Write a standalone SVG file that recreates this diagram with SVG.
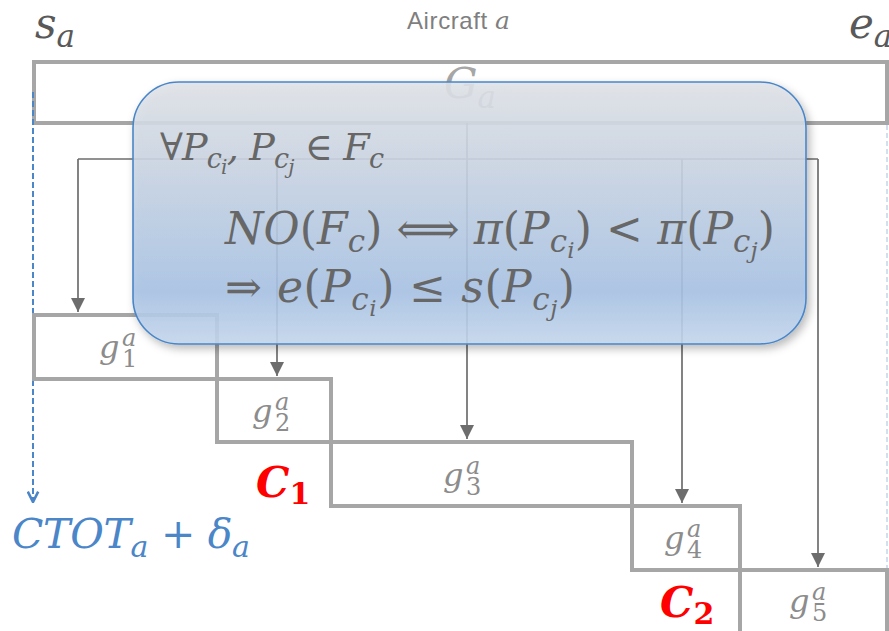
<svg xmlns="http://www.w3.org/2000/svg" width="889" height="631" viewBox="0 0 889 631">
<style>
.m{font-family:"DejaVu Serif","Liberation Serif",serif;font-style:italic;font-size:44px;fill:#676767}
.u{font-style:normal}
.s{font-size:31px}
.ss{font-size:23px}
.box{fill:#fff;stroke:#a6a6a6;stroke-width:4}
.con{fill:none;stroke:#6d6d6d;stroke-width:1.7}
.gl{font-family:"DejaVu Serif","Liberation Serif",serif;font-style:italic;fill:#8c8c8c;font-size:32px}
.sc{font-size:24px}
.red{font-family:"DejaVu Serif","Liberation Serif",serif;font-style:italic;font-weight:bold;fill:#ff0000;font-size:42px}
</style>
<defs>
<marker id="ah" viewBox="0 0 10 10" refX="10" refY="5" markerWidth="14" markerHeight="14" markerUnits="userSpaceOnUse" orient="auto"><path d="M0,0L10,5L0,10z" fill="#6d6d6d"/></marker>
<marker id="bh" viewBox="0 0 10 10" refX="9" refY="5" markerWidth="13" markerHeight="13" markerUnits="userSpaceOnUse" orient="auto"><path d="M1,1L9,5L1,9" fill="none" stroke="#4a86c8" stroke-width="2"/></marker>
<linearGradient id="gr" x1="0" y1="0" x2="0" y2="1">
<stop offset="0" stop-color="#e0e3e8"/>
<stop offset="0.3" stop-color="#ccd6e4"/>
<stop offset="0.8" stop-color="#a8c3e5"/>
<stop offset="1" stop-color="#c6d8ee"/>
</linearGradient>
<filter id="sh" x="-5%" y="-5%" width="115%" height="120%"><feDropShadow dx="3" dy="4" stdDeviation="4" flood-color="#000" flood-opacity="0.3"/></filter>
</defs>
<rect width="889" height="631" fill="#fff"/>
<text x="407" y="29" font-family="'Liberation Sans',Arial,sans-serif" font-size="24" fill="#7f7f7f" letter-spacing="0.6">Aircraft <tspan font-family="'DejaVu Serif',serif" font-style="italic" font-size="25">a</tspan></text>
<text x="35" y="38" class="m" style="font-size:42px;fill:#595959">s<tspan dy="9" style="font-size:31px">a</tspan></text>
<text x="849" y="38" class="m" style="font-size:42px;fill:#595959">e<tspan dy="9" style="font-size:31px">a</tspan></text>
<g id="Ga">
<rect x="34" y="62" width="853" height="61" class="box"/>
<text x="444" y="98" class="m" style="font-size:42px;fill:#a6a6a6">G<tspan dy="10" style="font-size:31px">a</tspan></text>
</g>
<g id="connectors">
<line x1="33" y1="92" x2="33" y2="502" stroke="#4a86c8" stroke-width="2" stroke-dasharray="6 3" marker-end="url(#bh)"/>
<line x1="887" y1="125" x2="887" y2="631" stroke="#c5d5ea" stroke-width="1.5" stroke-dasharray="5 3"/>
<path class="con" d="M467,123V159M78,159H818"/>
<line class="con" x1="78" y1="159" x2="78" y2="312" marker-end="url(#ah)"/>
<line class="con" x1="277" y1="159" x2="277" y2="376" marker-end="url(#ah)"/>
<line class="con" x1="467" y1="159" x2="467" y2="439" marker-end="url(#ah)"/>
<line class="con" x1="682" y1="159" x2="682" y2="503" marker-end="url(#ah)"/>
<line class="con" x1="818" y1="159" x2="818" y2="567" marker-end="url(#ah)"/>
</g>
<g id="g1"><rect x="34" y="315" width="183" height="64" class="box"/>
<text class="gl"><tspan x="99" y="358">g</tspan><tspan class="sc" x="122" y="346">a</tspan><tspan class="sc u" x="122" y="367">1</tspan></text></g>
<g id="g2"><rect x="217" y="379" width="114" height="63" class="box"/>
<text class="gl"><tspan x="252" y="422">g</tspan><tspan class="sc" x="275" y="410">a</tspan><tspan class="sc u" x="275" y="431">2</tspan></text></g>
<g id="g3"><rect x="331" y="442" width="301" height="64" class="box"/>
<text class="gl"><tspan x="443" y="486">g</tspan><tspan class="sc" x="466" y="474">a</tspan><tspan class="sc u" x="466" y="495">3</tspan></text></g>
<g id="g4"><rect x="632" y="506" width="108" height="64" class="box"/>
<text class="gl"><tspan x="664" y="549">g</tspan><tspan class="sc" x="687" y="537">a</tspan><tspan class="sc u" x="687" y="558">4</tspan></text></g>
<g id="g5"><rect x="740" y="570" width="147" height="64" class="box"/>
<text class="gl"><tspan x="789" y="612">g</tspan><tspan class="sc" x="812" y="600">a</tspan><tspan class="sc u" x="812" y="621">5</tspan></text></g>
<g id="C1"><text x="256" y="497" class="red">C<tspan dy="7" font-size="30" font-style="normal">1</tspan></text></g>
<g id="C2"><text x="660" y="617" class="red">C<tspan dy="7" font-size="30" font-style="normal">2</tspan></text></g>
<g id="ctot"><text x="12" y="548" class="m" style="fill:#4a86c8;font-size:41px" textLength="238">CTOT<tspan dy="9" style="font-size:30px">a</tspan><tspan class="u" dy="-9"> + </tspan>δ<tspan dy="9" style="font-size:30px">a</tspan></text></g>
<g id="constraint">
<rect x="133" y="82" width="673" height="262" rx="46" ry="46" fill="url(#gr)" fill-opacity="0.88" stroke="#4a86c8" stroke-width="1.6" filter="url(#sh)"/>
<text x="160" y="160" class="m" style="font-size:38px" textLength="224"><tspan class="u">∀</tspan>P<tspan style="font-size:27px" dy="8">c</tspan><tspan style="font-size:20px" dy="6">i</tspan><tspan dy="-14">, P</tspan><tspan style="font-size:27px" dy="8">c</tspan><tspan style="font-size:20px" dy="6">j</tspan><tspan class="u" dy="-14"> ∈ </tspan>F<tspan style="font-size:27px" dy="8">c</tspan></text>
<text x="225" y="244" class="m" textLength="550">NO<tspan class="u">(</tspan>F<tspan class="s" dy="8">c</tspan><tspan class="u" dy="-8">) ⟺ </tspan>π<tspan class="u">(</tspan>P<tspan class="s" dy="8">c</tspan><tspan class="ss" dy="6">i</tspan><tspan class="u" dy="-14">) &lt; </tspan>π<tspan class="u">(</tspan>P<tspan class="s" dy="8">c</tspan><tspan class="ss" dy="6">j</tspan><tspan class="u" dy="-14">)</tspan></text>
<text x="225" y="302" class="m" textLength="350"><tspan class="u">⇒ </tspan>e<tspan class="u">(</tspan>P<tspan class="s" dy="8">c</tspan><tspan class="ss" dy="6">i</tspan><tspan class="u" dy="-14">) ≤ </tspan>s<tspan class="u">(</tspan>P<tspan class="s" dy="8">c</tspan><tspan class="ss" dy="6">j</tspan><tspan class="u" dy="-14">)</tspan></text>
</g>
</svg>
